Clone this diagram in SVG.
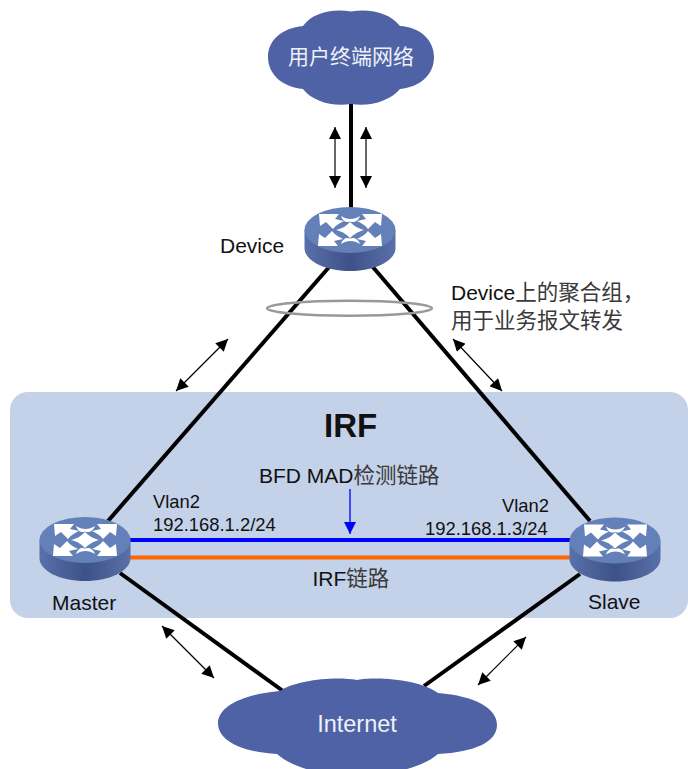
<svg xmlns="http://www.w3.org/2000/svg" width="688" height="769" viewBox="0 0 688 769">
<style>
text{font-family:"Liberation Sans","Noto Sans CJK SC",sans-serif;fill:#111}
.t21{font-size:21px}.t18{font-size:18.4px}
tspan.cjk{fill:#3a3a3a;font-size:21.5px}
.cloudtext{fill:#eef0f7}
.cloud{fill:#4f62a5}
.link{fill:none;stroke:#000;stroke-width:4}
.dbl{fill:none;stroke:#000;stroke-width:1.2;marker-start:url(#ah);marker-end:url(#ah)}
</style>
<defs>
<marker id="ah" viewBox="0 0 10 10" refX="10" refY="5" markerWidth="13" markerHeight="12" markerUnits="userSpaceOnUse" orient="auto-start-reverse"><path d="M0 0L10 5L0 10z" fill="#000"/></marker>
<marker id="bh" viewBox="0 0 10 10" refX="10" refY="5" markerWidth="12" markerHeight="12" markerUnits="userSpaceOnUse" orient="auto"><path d="M0 0L10 5L0 10z" fill="#0000ff"/></marker>
<linearGradient id="side" x1="0" x2="1" y1="0" y2="0"><stop offset="0" stop-color="#5a70a8"/><stop offset=".5" stop-color="#3d5289"/><stop offset="1" stop-color="#5a70a8"/></linearGradient>
<symbol id="router" viewBox="0 0 92 64" width="92" height="64" overflow="visible">
<path d="M0.500 23V41C0.500 54 21 64 46 64S91.500 54 91.500 41V23z" fill="url(#side)"/>
<ellipse cx="46" cy="23" rx="45.500" ry="23" fill="#6480b8"/>
<g fill="#fff">
<path d="M15 7H35L31 12L40 14C36 16 32 18 29 22L22 15L16 19z"/>
<path d="M78 7H58L62 12L53 14C57 16 61 18 64 22L71 15L77 19z"/>
<path d="M14 39H34L30 34L39 32C35 30 31 28 28 24L21 31L15 27z"/>
<path d="M78 39H58L62 34L53 32C57 30 61 28 64 24L71 31L77 27z"/>
<path d="M32 23C40 21 43 18 46 15C49 18 53 21 60 23C53 25 49 28 46 31C43 28 40 25 32 23z"/>
<path d="M37 9C43 13 50 13 56 9C54 15 49 16 46 14.500C43 16 39 15 37 9z"/>
<path d="M37 37C43 33 50 33 56 37C54 31 49 30 46 31.500C43 30 39 31 37 37z"/>
</g>
</symbol>
</defs>

<rect id="irf-panel" x="10" y="392" width="678" height="226" rx="18" ry="18" fill="#c3d1e9"/>

<g id="connectors">
<path class="link" d="M351 103V212"/>
<path class="link" d="M330 266L108 521"/>
<path class="link" d="M372 266L590 521"/>
<path class="link" d="M120 573L283 691"/>
<path class="link" d="M580 574L424 686"/>
<path d="M129 540H571" fill="none" stroke="#0000ff" stroke-width="4"/>
<path d="M129 557.500H571" fill="none" stroke="#ff6600" stroke-width="4"/>
<ellipse cx="349.500" cy="308.300" rx="82.500" ry="7.500" fill="none" stroke="#999" stroke-width="2.500"/>
<path class="dbl" d="M335 127V188"/>
<path class="dbl" d="M366 127V188"/>
<path class="dbl" d="M176 391L228 339"/>
<path class="dbl" d="M453 339L502 391"/>
<path class="dbl" d="M162 626L214 678"/>
<path class="dbl" d="M478 685L526 637"/>
<path d="M350 489V534" fill="none" stroke="#0000ff" stroke-width="1.300" marker-end="url(#bh)"/>
</g>

<g id="cloud-user">
<path class="cloud" d="M303 26C312 13 332 8 351 11.500C370 8 390 13 400 26C420 27 434 40 434 57C434 75 420 87 400 89C390 101 370 107 351 104C332 107 312 101 303 89C282 87 268 74 268 57C268 40 282 28 303 26z"/>
<text class="cloudtext" x="351" y="64" text-anchor="middle" font-size="21">用户终端网络</text>
</g>

<g id="cloud-internet">
<path class="cloud" d="M280 691C296 680 335 676 357 680C380 676 420 680 438 693C475 696 497 708 497 725C497 742 475 752 438 754C420 770 380 776 357 776C330 776 295 770 277 754C240 752 218 740 218 723C218 706 244 694 280 691z"/>
<text class="cloudtext" x="357" y="732" text-anchor="middle" font-size="23.500">Internet</text>
</g>

<g id="device">
<use href="#router" x="304" y="207"/>
<text class="t21" x="220" y="252.500">Device</text>
</g>
<g id="master">
<use href="#router" x="39" y="517"/>
<text class="t21" x="52" y="610">Master</text>
</g>
<g id="slave">
<use href="#router" x="569" y="517.500"/>
<text class="t21" x="588" y="608.500">Slave</text>
</g>

<g id="labels">
<text x="324" y="437" font-size="33" font-weight="bold">IRF</text>
<text class="t21" x="259" y="483">BFD MAD<tspan class="cjk">检测链路</tspan></text>
<text class="t18" x="153" y="508">Vlan2</text>
<text class="t18" x="153" y="531">192.168.1.2/24</text>
<text class="t18" x="502" y="511.500">Vlan2</text>
<text class="t18" x="425" y="535">192.168.1.3/24</text>
<text class="t21" x="312.500" y="586">IRF<tspan class="cjk">链路</tspan></text>
<text class="t21" x="451" y="300">Device<tspan class="cjk">上的聚合组，</tspan></text>
<text class="t21" x="451" y="328"><tspan class="cjk">用于业务报文转发</tspan></text>
</g>
</svg>
